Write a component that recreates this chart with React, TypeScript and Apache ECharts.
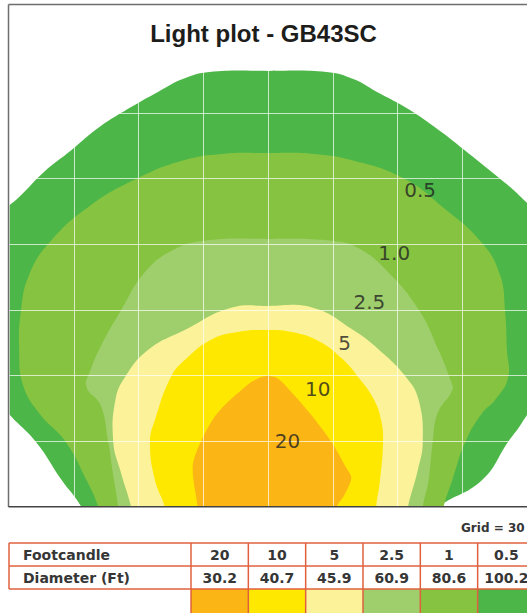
import React, { useEffect, useRef } from "react";
import * as echarts from "echarts";

// Contour levels (footcandles) and their fill colours
const levels = ["0.5", "1.0", "2.5", "5", "10", "20"];
const levelColors = ["#4cb748", "#86c341", "#9ecf6c", "#fcf29a", "#ffe800", "#fbb616"];

// Contour outlines, in feet (x: lateral from centre, y: forward distance)
const contour05 = [
  [-86.4, 0], [-95.6, 12.3], [-107.5, 29.7], [-120.4, 42.9], [-128.2, 53.4], [-132.8, 76.3],
  [-133.7, 99.1], [-131.4, 121.9], [-124.5, 133.3], [-115.3, 141.5], [-103.8, 153.0], [-91.0, 163.0],
  [-78.6, 173.1], [-63.4, 182.6], [-51.0, 189.5], [-39.5, 195.4], [-27.1, 198.6], [0, 199.1],
  [27.1, 198.6], [39.5, 195.4], [50.5, 189.5], [63.4, 182.6], [77.2, 173.5], [91.0, 163.0],
  [104.8, 152.0], [117.2, 141.5], [125.9, 131.0], [130.9, 112.8], [131.8, 90.0], [129.1, 67.1],
  [123.6, 48.9], [117.6, 38.4], [111.2, 29.7], [99.2, 12.3], [79.0, 0], [79.0, -3], [-86.4, -3],
];
const contour10 = [
  [-78.6, 0], [-84.1, 12.3], [-93.7, 29.7], [-106.1, 42.9], [-113.5, 55.7], [-115.3, 71.7],
  [-114.4, 90.0], [-110.7, 105.9], [-101.5, 120.5], [-83.2, 137.0], [-60.2, 150.2], [-38.6, 158.4],
  [-21.1, 161.2], [0, 161.6], [21.1, 161.2], [38.6, 158.4], [62.5, 150.2], [80.9, 137.0],
  [99.2, 120.5], [107.5, 105.9], [109.8, 90.0], [110.7, 71.7], [111.2, 58.9], [105.2, 48.9],
  [99.2, 42.9], [91.4, 29.7], [85.4, 12.3], [81.3, 0], [81.3, -3], [-78.6, -3],
];
const contour25 = [
  [-69.4, 0], [-72.1, 16.9], [-74.0, 29.7], [-77.6, 46.6], [-84.1, 54.8], [-82.2, 62.6],
  [-77.2, 74.0], [-68.0, 90.0], [-57.0, 107.3], [-44.1, 117.3], [-30.3, 121.5], [0, 122.4],
  [30.3, 121.5], [41.8, 118.3], [54.7, 108.2], [69.9, 90.0], [79.0, 71.7], [84.5, 58.0],
  [85.4, 53.4], [78.6, 42.9], [76.3, 29.7], [74.4, 12.3], [71.7, 0], [71.7, -3], [-69.4, -3],
];
const contour5 = [
  [-63.4, 0], [-68.5, 16.9], [-71.7, 29.7], [-70.7, 48.9], [-66.2, 59.4], [-55.6, 71.7],
  [-38.6, 80.8], [-17.5, 90.9], [0, 91.8], [21.1, 90.9], [39.5, 80.8], [51.5, 71.7],
  [63.9, 59.4], [69.8, 48.9], [71.7, 29.7], [69.4, 16.9], [64.8, 0], [64.8, -3], [-63.4, -3],
];
const contour10fc = [
  [-47.8, 0], [-52.4, 12.3], [-54.7, 29.7], [-52.4, 39.7], [-45.0, 59.4], [-38.6, 67.1],
  [-26.6, 76.3], [-14.2, 79.9], [-1.4, 80.8], [11.0, 79.9], [23.4, 75.8], [34.0, 68.0],
  [41.8, 59.4], [49.2, 48.9], [52.4, 39.7], [53.3, 29.7], [51.9, 12.3], [50.1, 0], [50.1, -3], [-47.8, -3],
];
const contour20 = [
  [-32.6, 0], [-34.9, 18.3], [-31.2, 29.7], [-23.4, 42.9], [-9.6, 55.7], [-4.1, 58.9],
  [-0.5, 59.8], [4.1, 58.9], [8.7, 54.8], [19.3, 42.9], [29.4, 29.7], [36.3, 17.8],
  [38.6, 13.2], [35.4, 5.5], [31.7, 0], [31.7, -3], [-32.6, -3],
];
const contours = [contour05, contour10, contour25, contour5, contour10fc, contour20];

// Label anchor points (feet)
const labelPoints = [
  [70.5, 144.7], [58.5, 116.0], [47.0, 93.6], [35.5, 74.9], [23.0, 53.9], [9.0, 30.1],
];

// Table data
const footcandle = ["20", "10", "5", "2.5", "1", "0.5"];
const diameter = ["30.2", "40.7", "45.9", "60.9", "80.6", "100.2"];
const swatchColors = ["#fbb616", "#ffe800", "#fcf29a", "#9ecf6c", "#86c341", "#4cb748"];
const gridNote = "Grid = 30";

export default function App() {
  const ref = useRef<HTMLDivElement>(null);
  useEffect(() => {
    if (!ref.current) return;
    const chart = echarts.init(ref.current, null, { renderer: "svg" });

    const polySeries = contours.map((pts, i) => ({
      type: "custom",
      name: levels[i],
      coordinateSystem: "cartesian2d",
      clip: true,
      silent: true,
      z: 1,
      data: [[0, 0]],
      renderItem: (_params: any, api: any) => ({
        type: "polygon",
        shape: { points: pts.map((p) => api.coord(p)), smooth: i === 5 ? 0.3 : 0.45 },
        style: { fill: levelColors[i], stroke: null },
      }),
    }));

    const stroke = "#e0603e";
    const tTop = 543, tMid = 566, tBot = 589, tLeft = 9, col0 = 191, colW = 57.33;
    const graphics: any[] = [];
    // frame
    graphics.push({ type: "line", z: 20, shape: { x1: 8.5, y1: 4.5, x2: 8.5, y2: 507 }, style: { stroke: "#6e6e6e", lineWidth: 1.5 } });
    graphics.push({ type: "line", z: 20, shape: { x1: 8.5, y1: 4.5, x2: 540, y2: 4.5 }, style: { stroke: "#6e6e6e", lineWidth: 1.5 } });
    graphics.push({ type: "line", z: 20, shape: { x1: 8.5, y1: 506.8, x2: 540, y2: 506.8 }, style: { stroke: "#444", lineWidth: 1.5 } });
    // swatches
    swatchColors.forEach((c, i) => {
      graphics.push({ type: "rect", z: 20, shape: { x: col0 + i * colW, y: tBot, width: colW, height: 30 }, style: { fill: c } });
    });
    // horizontal lines
    [tTop, tMid, tBot].forEach((y) => {
      graphics.push({ type: "line", z: 21, shape: { x1: tLeft, y1: y, x2: 540, y2: y }, style: { stroke, lineWidth: 1.5 } });
    });
    graphics.push({ type: "line", z: 21, shape: { x1: tLeft, y1: tTop, x2: tLeft, y2: tBot }, style: { stroke, lineWidth: 1.5 } });
    for (let i = 0; i <= footcandle.length; i++) {
      const x = col0 + i * colW;
      graphics.push({ type: "line", z: 21, shape: { x1: x, y1: tTop, x2: x, y2: 620 }, style: { stroke, lineWidth: 1.5 } });
    }
    const txt = { fontFamily: "DejaVu Sans", fontWeight: "bold", fill: "#363636" };
    graphics.push({ type: "text", z: 22, x: 23, y: (tTop + tMid) / 2, style: { ...txt, text: "Footcandle", fontSize: 14, textVerticalAlign: "middle" } });
    graphics.push({ type: "text", z: 22, x: 23, y: (tMid + tBot) / 2, style: { ...txt, text: "Diameter (Ft)", fontSize: 14, textVerticalAlign: "middle" } });
    footcandle.forEach((v, i) => {
      graphics.push({ type: "text", z: 22, x: col0 + (i + 0.5) * colW, y: (tTop + tMid) / 2, style: { ...txt, text: v, fontSize: 14, textAlign: "center", textVerticalAlign: "middle" } });
    });
    diameter.forEach((v, i) => {
      graphics.push({ type: "text", z: 22, x: col0 + (i + 0.5) * colW, y: (tMid + tBot) / 2, style: { ...txt, text: v, fontSize: 14, textAlign: "center", textVerticalAlign: "middle" } });
    });
    graphics.push({ type: "text", z: 22, x: 461, y: 528, style: { ...txt, text: gridNote, fontSize: 12, textVerticalAlign: "middle" } });

    chart.setOption({
      animation: false,
      backgroundColor: "#ffffff",
      title: {
        text: "Light plot - GB43SC",
        left: "center",
        top: 16,
        textStyle: { fontFamily: "Liberation Sans", fontSize: 24, fontWeight: "bold", color: "#1d1d1b" },
      },
      grid: { left: 9, top: 5, width: 522.4, height: 502, containLabel: false },
      xAxis: {
        type: "value", min: -120, max: 120, interval: 30, z: 3,
        axisLine: { show: false }, axisTick: { show: false }, axisLabel: { show: false },
        splitLine: { show: true, lineStyle: { color: "rgba(255,255,255,0.7)", width: 1 } },
      },
      yAxis: {
        type: "value", min: 0, max: 229.2, interval: 30, z: 3,
        axisLine: { show: false }, axisTick: { show: false }, axisLabel: { show: false },
        splitLine: { show: true, lineStyle: { color: "rgba(255,255,255,0.7)", width: 1 } },
      },
      series: [
        ...polySeries,
        {
          type: "scatter",
          z: 5,
          silent: true,
          symbolSize: 1,
          itemStyle: { color: "transparent" },
          data: labelPoints,
          label: {
            show: true,
            position: "inside",
            formatter: (p: any) => levels[p.dataIndex],
            fontFamily: "DejaVu Sans",
            fontSize: 20,
            color: "#222222",
          },
        },
      ],
      graphic: graphics,
    });
    return () => chart.dispose();
  }, []);
  return (
    <div
      ref={ref}
      style={{ position: "fixed", left: 0, top: 0, width: 527, height: 613, background: "#fff" }}
    />
  );
}
